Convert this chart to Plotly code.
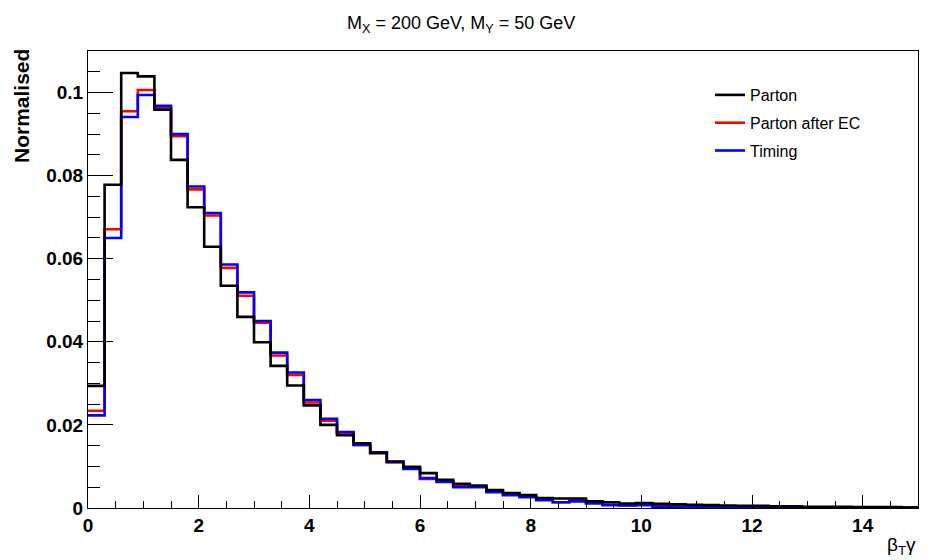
import plotly.graph_objects as go

# Histogram binning: 50 bins of width 0.3 from 0 to 15
bin_edges = [round(0.3 * i, 1) for i in range(51)]

parton = [0.0294, 0.0778, 0.1047, 0.1039, 0.0959, 0.0838, 0.0724, 0.0629, 0.0535, 0.0460,
          0.0399, 0.0342, 0.0295, 0.0247, 0.0200, 0.0175, 0.0156, 0.0132, 0.0112, 0.0099,
          0.0084, 0.0068, 0.0058, 0.0054, 0.0043, 0.0036, 0.0031, 0.0024, 0.0023, 0.0023,
          0.0016, 0.0014, 0.0011, 0.0012, 0.0010, 0.0009, 0.0008, 0.0007, 0.0006, 0.0005,
          0.0005, 0.0004, 0.0004, 0.0003, 0.0003, 0.0003, 0.0002, 0.0002, 0.0002, 0.0001]

parton_ec = [0.0234, 0.0671, 0.0955, 0.1006, 0.0965, 0.0895, 0.0767, 0.0704, 0.0578, 0.0511,
             0.0446, 0.0367, 0.0320, 0.0254, 0.0210, 0.0180, 0.0152, 0.0134, 0.0111, 0.0096,
             0.0070, 0.0064, 0.0052, 0.0051, 0.0039, 0.0032, 0.0027, 0.0020, 0.0014, 0.0018,
             0.0013, 0.0008, 0.0007, 0.0008, 0.0004, 0.0004, 0.0003, 0.0003, 0.0003, 0.0002,
             0.0002, 0.0002, 0.0002, 0.0001, 0.0001, 0.0001, 0.0001, 0.0001, 0.0001, 0.0001]

timing = [0.0223, 0.0650, 0.0941, 0.0994, 0.0968, 0.0900, 0.0774, 0.0710, 0.0586, 0.0519,
          0.0450, 0.0374, 0.0326, 0.0260, 0.0215, 0.0183, 0.0152, 0.0134, 0.0110, 0.0094,
          0.0072, 0.0063, 0.0050, 0.0050, 0.0038, 0.0031, 0.0026, 0.0019, 0.0014, 0.0016,
          0.0011, 0.0007, 0.0006, 0.0007, 0.0003, 0.0003, 0.0003, 0.0002, 0.0002, 0.0002,
          0.0002, 0.0002, 0.0001, 0.0001, 0.0001, 0.0001, 0.0001, 0.0001, 0.0001, 0.0001]

series_names = ["Parton", "Parton after EC", "Timing"]
series_colors = ["#000000", "#ff0000", "#0000ff"]

FONT = "Liberation Sans, Arial, Helvetica, sans-serif"

def step(vals):
    return bin_edges, list(vals) + [vals[-1]]

fig = go.Figure()
# draw order: red, blue, black (black on top); legend order via legendrank
for name, vals, color, rank in [
    (series_names[1], parton_ec, series_colors[1], 2),
    (series_names[2], timing, series_colors[2], 3),
    (series_names[0], parton, series_colors[0], 1),
]:
    x, y = step(vals)
    fig.add_trace(go.Scatter(
        x=x, y=y, mode="lines", name=name,
        line=dict(color=color, width=2.6, shape="hv"),
        legendrank=rank, legendgroup=name,
    ))

fig.update_layout(
    width=935, height=560,
    margin=dict(l=88, r=17, t=51, b=52),
    paper_bgcolor="white", plot_bgcolor="white",
    showlegend=True,
    legend=dict(
        x=(710 - 88) / 830, y=(508 - 78) / 457, xanchor="left", yanchor="top",
        font=dict(family=FONT, size=16, color="black"),
        bgcolor="rgba(0,0,0,0)", borderwidth=0,
        traceorder="grouped", tracegroupgap=4,
    ),
    font=dict(family=FONT, color="black"),
)

fig.update_xaxes(
    range=[0, 15], showgrid=False, zeroline=False,
    showline=True, linecolor="black", linewidth=1, mirror=True,
    ticks="inside", ticklen=13, tickcolor="black", tickwidth=1,
    tick0=0, dtick=2,
    tickfont=dict(family=FONT, size=19, color="black", weight="bold"),
    minor=dict(ticks="inside", ticklen=7, dtick=0.5, tickcolor="black", tickwidth=1, showgrid=False),
)
fig.update_yaxes(
    range=[0, 0.11], showgrid=False, zeroline=False,
    showline=True, linecolor="black", linewidth=1, mirror=True,
    ticks="inside", ticklen=25, tickcolor="black", tickwidth=1,
    tick0=0, dtick=0.02, tickformat="~g",
    tickfont=dict(family=FONT, size=19, color="black", weight="bold"),
    minor=dict(ticks="inside", ticklen=12, dtick=0.005, tickcolor="black", tickwidth=1, showgrid=False),
)

# Title
fig.add_annotation(
    text="M<sub>X</sub> = 200 GeV, M<sub>Y</sub> = 50 GeV",
    xref="paper", yref="paper", x=(461 - 88) / 830, y=(508 - 24) / 457,
    xanchor="center", yanchor="middle", showarrow=False,
    font=dict(family=FONT, size=18, color="black"),
)
# Y axis title
fig.add_annotation(
    text="Normalised", textangle=-90,
    xref="paper", yref="paper", x=(22 - 88) / 830, y=(508 - 47) / 457,
    xanchor="center", yanchor="top", showarrow=False,
    font=dict(family=FONT, size=21, color="black", weight="bold"),
)
# X axis title
fig.add_annotation(
    text="β<sub>T</sub>γ",
    xref="paper", yref="paper", x=1.0, y=(508 - 546) / 457,
    xanchor="right", yanchor="middle", showarrow=False,
    font=dict(family=FONT, size=19, color="black"),
)

fig.write_html("out.html")
